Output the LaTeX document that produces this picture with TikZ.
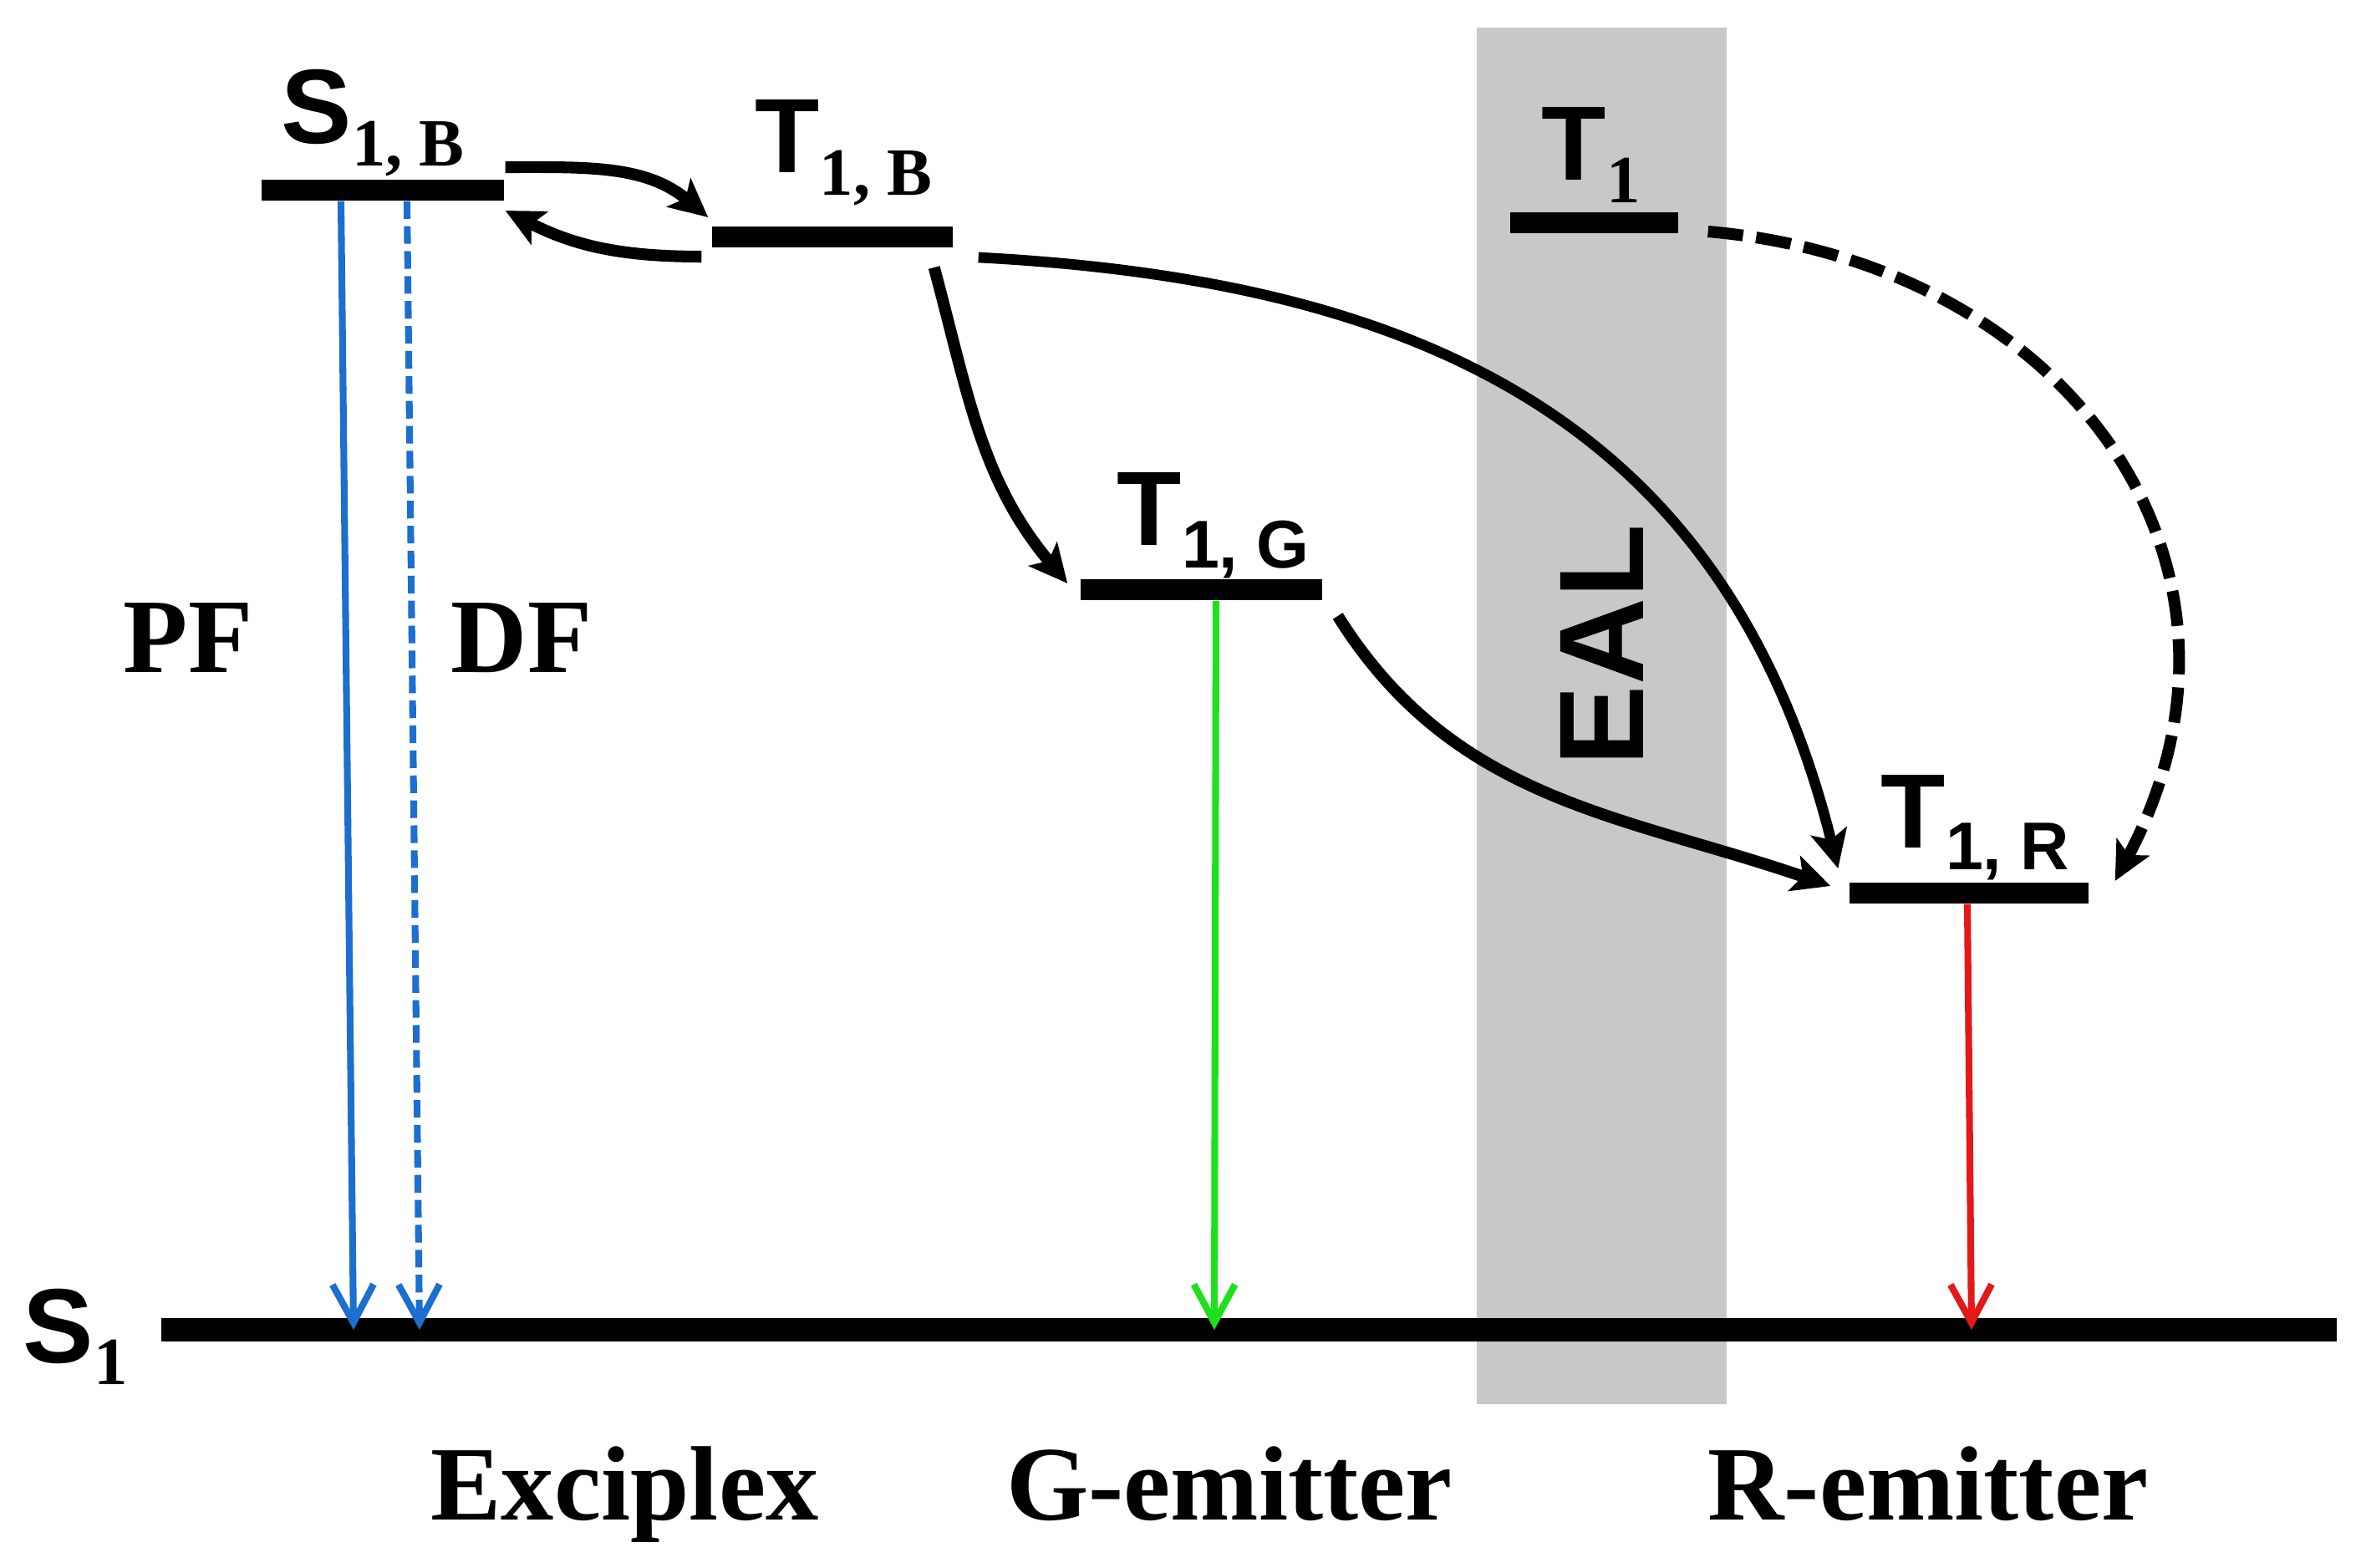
\documentclass[tikz,border=0pt]{standalone}
\usepackage{fontspec}
\setmainfont{Liberation Serif}
\setsansfont{Liberation Sans}
\usepackage{tikz}
\usetikzlibrary{arrows.meta}

\definecolor{bandgray}{RGB}{200,200,200}
\definecolor{pfblue}{RGB}{28,110,208}
\definecolor{emgreen}{RGB}{30,225,30}
\definecolor{emred}{RGB}{228,24,24}

\newcommand{\lvl}[2]{#1\raisebox{-7.5pt}{\fontsize{23}{23}\selectfont #2}}

\begin{document}
\begin{tikzpicture}[
    level/.style={rectangle, fill=black, inner sep=0pt, minimum height=0.25cm},
    statelabel/.style={anchor=base west, inner sep=0pt, font=\fontsize{36}{36}\sffamily\bfseries},
    tag/.style={anchor=base, inner sep=0pt, font=\fontsize{36}{36}\rmfamily\bfseries},
    transfer/.style={-{Stealth[length=13pt, width=12.5pt, inset=3pt]}, line width=4pt},
    emission/.style={-{Straight Barb[length=13pt, width=14pt]}, line width=2.3pt}
]
\useasboundingbox (0,0) rectangle (28.31,18.75);

% EAL band
\fill[bandgray] (17.67,1.95) rectangle (20.66,18.42);
\node[rotate=90, inner sep=0pt, font=\fontsize{41}{41}\sffamily\bfseries] (eal) at (19.17,11.03) {EAL};

% Levels
\node[level, minimum width=2.90cm] (s1b) at (4.58,16.475) {};
\node[level, minimum width=2.88cm] (t1b) at (9.96,15.915) {};
\node[level, minimum width=2.01cm] (t1) at (19.075,16.08) {};
\node[level, minimum width=2.89cm] (t1g) at (14.375,11.69) {};
\node[level, minimum width=2.86cm] (t1r) at (23.56,8.065) {};
\node[level, minimum width=26.03cm, minimum height=0.28cm] (s1) at (14.945,2.84) {};

% Level labels
\node[statelabel] (s1blbl) at (3.36,17.03) {\lvl{S}{\rmfamily 1, B}};
\node[statelabel] (t1blbl) at (9.03,16.68) {\lvl{T}{\rmfamily 1, B}};
\node[statelabel] (t1lbl) at (18.44,16.59) {\lvl{T}{\rmfamily 1}};
\node[statelabel] (t1glbl) at (13.36,12.22) {\lvl{T}{1, G}};
\node[statelabel] (t1rlbl) at (22.50,8.61) {\lvl{T}{1, R}};
\node[statelabel] (s1lbl) at (0.27,2.45) {\lvl{S}{\rmfamily 1}};

% Process and emitter labels
\node[tag] (pf) at (2.25,10.70) {PF};
\node[tag] (df) at (6.24,10.70) {DF};
\node[tag] (exciplex) at (7.475,0.57) {Exciplex};
\node[tag] (gem) at (14.71,0.57) {G-emitter};
\node[tag] (rem) at (23.07,0.57) {R-emitter};

% Energy transfer
\draw[transfer] ([shift={(0.01,0.275)}]s1b.east) to[out=0, in=140] ([shift={(-0.04,0.235)}]t1b.west);
\draw[transfer] ([shift={(-0.12,-0.235)}]t1b.west) to[out=180, in=-27] ([shift={(0.01,-0.245)}]s1b.east);
\draw[transfer] ([shift={(-0.23,-0.365)}]t1b.east) to[out=-75, in=130] ([shift={(-0.15,0.08)}]t1g.west);
\draw[transfer, line width=3.6pt] ([shift={(0.30,-0.245)}]t1b.east) to[out=-3, in=104, looseness=1.1] ([shift={(-0.13,0.295)}]t1r.west);
\draw[transfer] ([shift={(0.18,-0.31)}]t1g.east) to[out=-58, in=161] ([shift={(-0.22,0.085)}]t1r.west);
\draw[transfer, dash pattern=on 12pt off 4.5pt] ([shift={(0.35,-0.10)}]t1.east) to[out=-5, in=62, looseness=1.2] ([shift={(0.31,0.145)}]t1r.east);

% Emission
\draw[emission, pfblue] ([xshift=-5.0mm]s1b.south) -- (4.23,0 |- s1.center);
\draw[emission, pfblue, dash pattern=on 6pt off 2.5pt] ([xshift=2.9mm]s1b.south) -- (5.02,0 |- s1.center);
\draw[emission, emgreen] ([xshift=1.75mm]t1g.south) -- (14.53,0 |- s1.center);
\draw[emission, emred] ([xshift=-0.2mm]t1r.south) -- (23.59,0 |- s1.center);

\end{tikzpicture}
\end{document}
